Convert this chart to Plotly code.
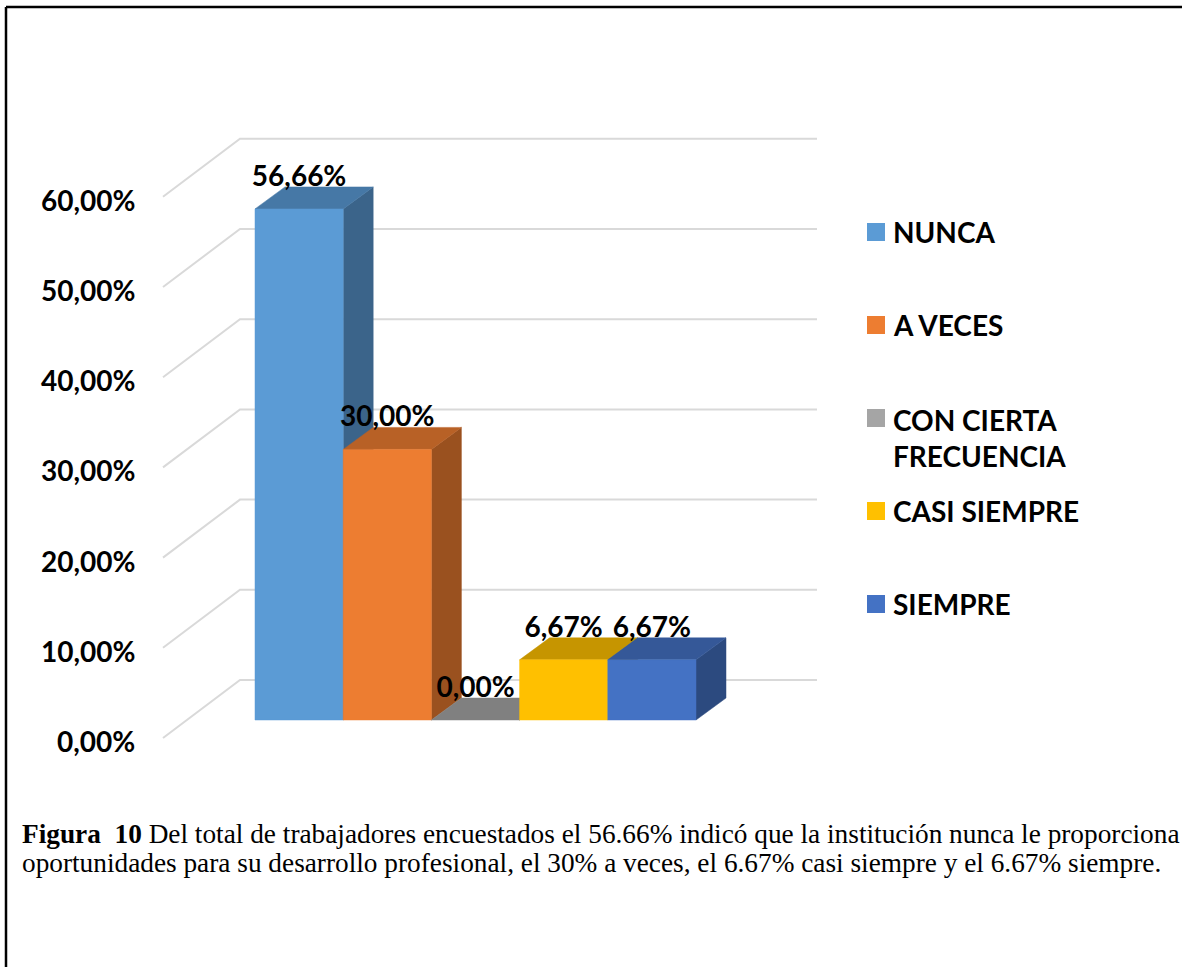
import plotly.graph_objects as go

# ---------------- data ----------------
categories = ["NUNCA", "A VECES", "CON CIERTA<br>FRECUENCIA", "CASI SIEMPRE", "SIEMPRE"]
values = [56.66, 30.00, 0.00, 6.67, 6.67]
value_labels = ["56,66%", "30,00%", "0,00%", "6,67%", "6,67%"]
tick_values = [0, 10, 20, 30, 40, 50, 60]
tick_labels = ["0,00%", "10,00%", "20,00%", "30,00%", "40,00%", "50,00%", "60,00%"]
caption_lines = [
    "<b>Figura\u00a0\u00a010</b> Del total de trabajadores encuestados el 56.66% indicó que la institución nunca le proporciona",
    "oportunidades para su desarrollo profesional, el 30% a veces, el 6.67% casi siempre y el 6.67% siempre.",
]

# ---------------- style ----------------
front_colors = ["#5B9BD5", "#ED7D31", "#A5A5A5", "#FFC000", "#4472C4"]


def shade(hex_color, f):
    h = hex_color.lstrip("#")
    r, g, b = (int(h[i:i + 2], 16) for i in (0, 2, 4))
    return "#%02X%02X%02X" % (int(r * f), int(g * f), int(b * f))


W, H = 1182, 967
PX_PER_UNIT_X = 88.2      # one bar width in px
PX_PER_PCT = 9.02         # px per percentage point
X0_PX, Y0_PX = 255, 720   # front-left-bottom corner of first bar

def ux(px):
    return px / PX_PER_UNIT_X

def uy(px):
    return px / PX_PER_PCT

DEPTH_X, DEPTH_Y = ux(30), uy(22)
WALL_X0, WALL_X1 = ux(240 - X0_PX), ux(817 - X0_PX)
WALL_DY = uy(40)
FRONT_X = ux(163 - X0_PX)
FRONT_DY = -uy(18)

FONT = "Lato"
fig = go.Figure()

# gridlines (side wall diagonal + back wall)
for v in tick_values:
    fig.add_trace(go.Scatter(
        x=[FRONT_X, WALL_X0, WALL_X1],
        y=[v + FRONT_DY, v + WALL_DY, v + WALL_DY],
        mode="lines", line=dict(color="#D9D9D9", width=2),
        hoverinfo="skip", showlegend=False))

# 3D-style bars
for i, (v, c) in enumerate(zip(values, front_colors)):
    x0, x1 = i, i + 1
    side = dict(x=[x1, x1 + DEPTH_X, x1 + DEPTH_X, x1, x1],
                y=[0, DEPTH_Y, v + DEPTH_Y, v, 0])
    top = dict(x=[x0, x1, x1 + DEPTH_X, x0 + DEPTH_X, x0],
               y=[v, v, v + DEPTH_Y, v + DEPTH_Y, v])
    front = dict(x=[x0, x1, x1, x0, x0], y=[0, 0, v, v, 0])
    for poly, col in ((side, shade(c, 0.65)), (top, shade(c, 0.78)), (front, c)):
        if poly is front and v == 0:
            continue
        fig.add_trace(go.Scatter(
            x=poly["x"], y=poly["y"], mode="lines", fill="toself",
            fillcolor=col, line=dict(color=col, width=0.5),
            hoverinfo="skip", showlegend=False))

# data labels (centred on each bar)
fig.add_trace(go.Scatter(
    x=[i + 0.5 for i in range(len(values))],
    y=[v + uy(30) for v in values],
    mode="text", text=value_labels, textposition="middle center",
    textfont=dict(family=FONT, size=28, color="#000000", weight="bold"),
    hoverinfo="skip", showlegend=False))

# axis tick labels
for v, t in zip(tick_values, tick_labels):
    fig.add_annotation(x=ux(137 - X0_PX), y=v + FRONT_DY - uy(3), text="<b>%s</b>" % t,
                       xanchor="right", yanchor="middle", showarrow=False,
                       font=dict(family=FONT, size=28, color="#000000"))

# legend (manual)
LEG_Y0_PX, LEG_STEP_PX = 232, 93
leg_y = [uy(Y0_PX - (LEG_Y0_PX + LEG_STEP_PX * i)) for i in range(len(categories))]
fig.add_trace(go.Scatter(
    x=[ux(876 - X0_PX)] * len(categories), y=leg_y, mode="markers",
    marker=dict(symbol="square", size=18, color=front_colors, line=dict(width=0)),
    hoverinfo="skip", showlegend=False))
for name, y in zip(categories, leg_y):
    n = name.count("<br>")
    fig.add_annotation(x=ux(891 - X0_PX), y=y - uy(19.5) * n, text="<b>%s</b>" % name,
                       xanchor="left", yanchor="middle", align="left", showarrow=False,
                       font=dict(family=FONT, size=28, color="#000000"))

# caption
for k, line in enumerate(caption_lines):
    fig.add_annotation(xref="paper", yref="paper", x=20 / W, y=1 - (834 + 29 * k) / H,
                       text=line, xanchor="left", yanchor="middle", showarrow=False,
                       font=dict(family="Liberation Serif", size=27.3, color="#000000"))

# frame
fig.add_shape(type="line", xref="paper", yref="paper", x0=6 / W, x1=1.0, y0=1 - 7 / H, y1=1 - 7 / H,
              line=dict(color="#000000", width=2.5))
fig.add_shape(type="line", xref="paper", yref="paper", x0=6 / W, x1=6 / W, y0=0, y1=1 - 7 / H,
              line=dict(color="#000000", width=2.5))

fig.update_layout(
    width=W, height=H, autosize=False,
    margin=dict(l=0, r=0, t=0, b=0),
    paper_bgcolor="#FFFFFF", plot_bgcolor="#FFFFFF",
    xaxis=dict(range=[ux(-X0_PX), ux(W - X0_PX)], visible=False, fixedrange=True),
    yaxis=dict(range=[uy(Y0_PX - H), uy(Y0_PX)], visible=False, fixedrange=True),
    showlegend=False,
)

fig.write_html("out.html")
